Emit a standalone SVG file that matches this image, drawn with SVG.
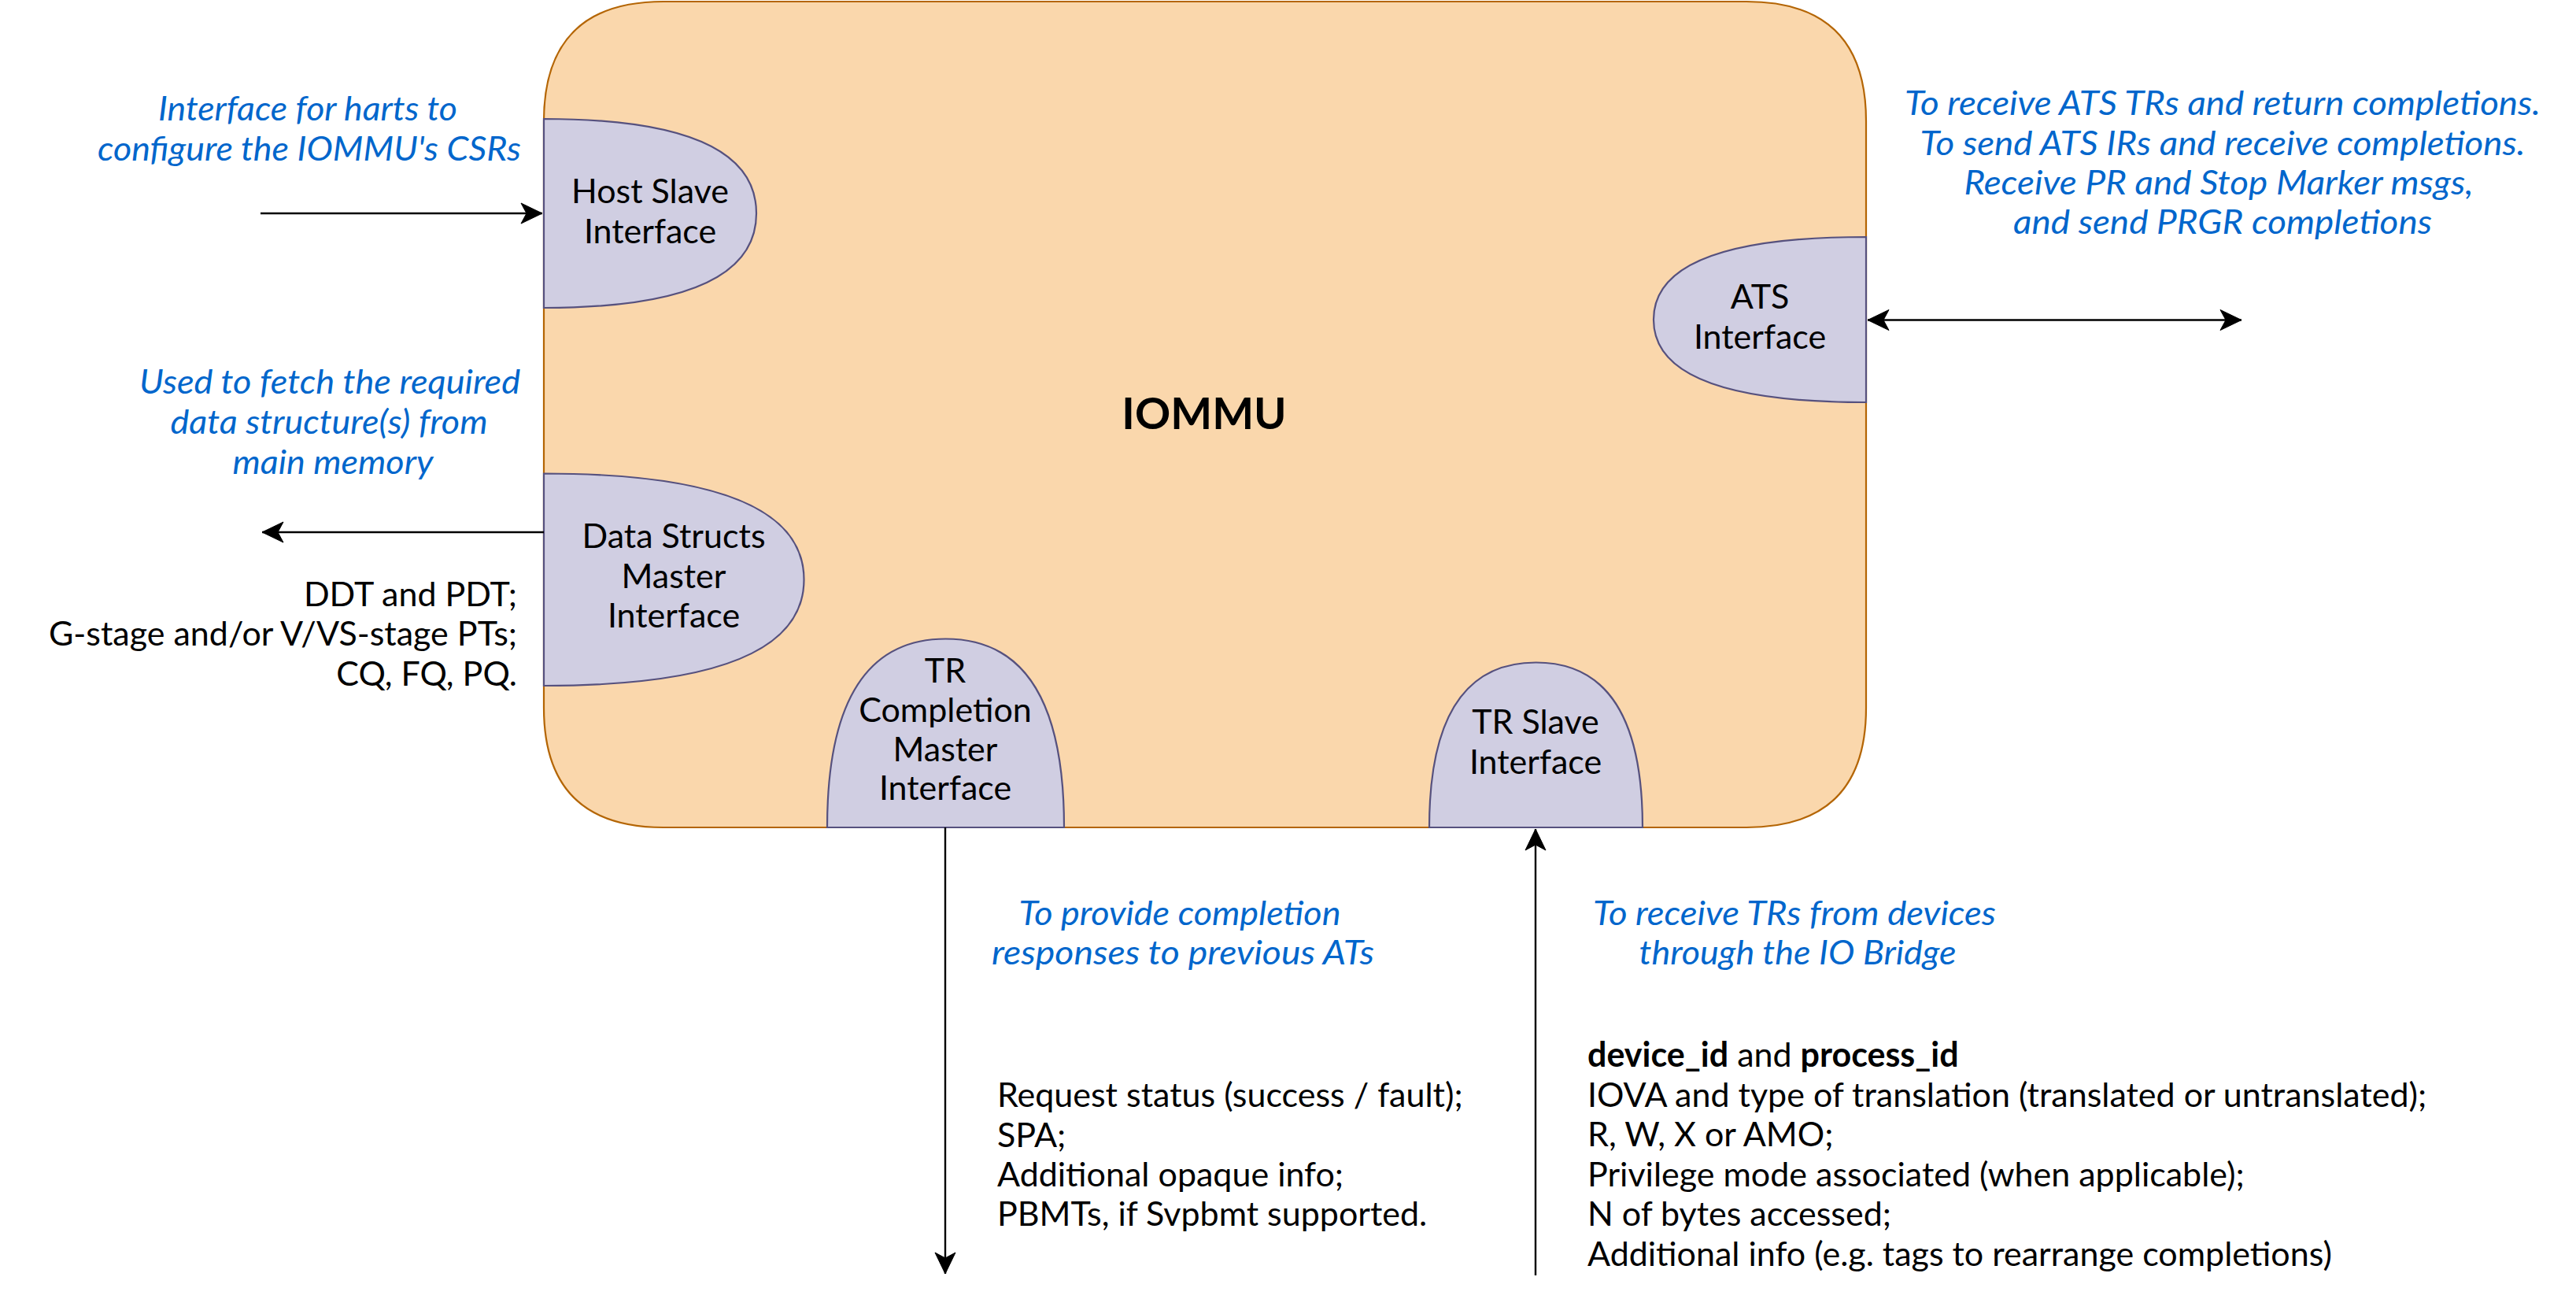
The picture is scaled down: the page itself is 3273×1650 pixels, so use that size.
<svg xmlns="http://www.w3.org/2000/svg" width="3273" height="1650" viewBox="0 0 3273 1650">
<defs>
<style>
.t{font-family:Lato,"Open Sans","Liberation Sans",sans-serif;font-size:43px;fill:#000}
.c{text-anchor:middle}
.e{text-anchor:end}
.b{font-family:Lato,"Open Sans","Liberation Sans",sans-serif;font-size:42px;font-style:italic;fill:#0066CC;text-anchor:middle}
.ifc{fill:#D0CEE2;stroke:#56517E;stroke-width:2.2}
.edge{fill:none;stroke:#000;stroke-width:2.4}
</style>
<marker id="ah" markerUnits="userSpaceOnUse" viewBox="-28 -14 30 28" refX="0" refY="0" markerWidth="30" markerHeight="28" orient="auto-start-reverse">
<path d="M0,0 L-27,-13 L-20,0 L-27,13 Z" fill="#000" stroke="#000" stroke-width="1"/>
</marker>
</defs>
<rect width="3273" height="1650" fill="#fff"/>

<g id="iommu">
<path d="M843,2 L2219,2 Q2371,2 2371,154 L2371,899 Q2371,1051 2219,1051 L843,1051 Q691,1051 691,899 L691,154 Q691,2 843,2 Z" fill="#FAD7AC" stroke="#B46504" stroke-width="2.2"/>
<text class="t c" x="1530" y="545" style="font-weight:bold;font-size:56px">IOMMU</text>
</g>

<g id="host-slave-interface">
<path class="ifc" d="M691,151 Q961,151 961,271 Q961,391 691,391 Z"/>
<text class="t c" x="826" y="258">Host Slave</text>
<text class="t c" x="826" y="309">Interface</text>
</g>

<g id="data-structs-master-interface">
<path class="ifc" d="M691,601.5 Q1021.5,601.5 1021.5,736.25 Q1021.5,871 691,871 Z"/>
<text class="t c" x="856" y="696">Data Structs</text>
<text class="t c" x="856" y="747">Master</text>
<text class="t c" x="856" y="797">Interface</text>
</g>

<g id="ats-interface">
<path class="ifc" d="M2371,301 Q2101,301 2101,406 Q2101,511 2371,511 Z"/>
<text class="t c" x="2236" y="392">ATS</text>
<text class="t c" x="2236" y="443">Interface</text>
</g>

<g id="tr-completion-master-interface">
<path class="ifc" d="M1051,1051 Q1051,811.5 1201.5,811.5 Q1352,811.5 1352,1051 Z"/>
<text class="t c" x="1201" y="867">TR</text>
<text class="t c" x="1201" y="917">Completion</text>
<text class="t c" x="1201" y="967">Master</text>
<text class="t c" x="1201" y="1016">Interface</text>
</g>

<g id="tr-slave-interface">
<path class="ifc" d="M1816,1051 Q1816,841.5 1951.5,841.5 Q2087,841.5 2087,1051 Z"/>
<text class="t c" x="1951" y="932">TR Slave</text>
<text class="t c" x="1951" y="983">Interface</text>
</g>

<g id="connectors">
<line class="edge" x1="331" y1="271" x2="689" y2="271" marker-end="url(#ah)"/>
<line class="edge" x1="691" y1="676" x2="333" y2="676" marker-end="url(#ah)"/>
<line class="edge" x1="2373" y1="406.5" x2="2848" y2="406.5" marker-start="url(#ah)" marker-end="url(#ah)"/>
<line class="edge" x1="1201" y1="1051" x2="1201" y2="1618" marker-end="url(#ah)"/>
<line class="edge" x1="1951" y1="1620" x2="1951" y2="1053" marker-end="url(#ah)"/>
</g>

<g id="labels">
<text class="b" x="391" y="153" textLength="380" lengthAdjust="spacingAndGlyphs">Interface for harts to</text>
<text class="b" x="393" y="204" textLength="538" lengthAdjust="spacingAndGlyphs">configure the IOMMU's CSRs</text>

<text class="b" x="419" y="500" textLength="484" lengthAdjust="spacingAndGlyphs">Used to fetch the required</text>
<text class="b" x="418" y="551" textLength="403" lengthAdjust="spacingAndGlyphs">data structure(s) from</text>
<text class="b" x="423" y="602" textLength="255" lengthAdjust="spacingAndGlyphs">main memory</text>

<text class="t e" x="657" y="770">DDT and PDT;</text>
<text class="t e" x="657" y="820">G-stage and/or V/VS-stage PTs;</text>
<text class="t e" x="657" y="871">CQ, FQ, PQ.</text>

<text class="b" x="2824" y="146" textLength="808" lengthAdjust="spacingAndGlyphs">To receive ATS TRs and return completions.</text>
<text class="b" x="2824" y="196.5" textLength="769" lengthAdjust="spacingAndGlyphs">To send ATS IRs and receive completions.</text>
<text class="b" x="2819" y="247" textLength="647" lengthAdjust="spacingAndGlyphs">Receive PR and Stop Marker msgs,</text>
<text class="b" x="2824" y="297" textLength="532" lengthAdjust="spacingAndGlyphs">and send PRGR completions</text>

<text class="b" x="1499" y="1175" textLength="409" lengthAdjust="spacingAndGlyphs">To provide completion</text>
<text class="b" x="1503" y="1225" textLength="486" lengthAdjust="spacingAndGlyphs">responses to previous ATs</text>

<text class="t" x="1267" y="1406">Request status (success / fault);</text>
<text class="t" x="1267" y="1456.5">SPA;</text>
<text class="t" x="1267" y="1507">Additional opaque info;</text>
<text class="t" x="1267" y="1557">PBMTs, if Svpbmt supported.</text>

<text class="b" x="2280" y="1175" textLength="512" lengthAdjust="spacingAndGlyphs">To receive TRs from devices</text>
<text class="b" x="2284" y="1225" textLength="403" lengthAdjust="spacingAndGlyphs">through the IO Bridge</text>

<text class="t" x="2017" y="1355"><tspan font-weight="bold">device_id</tspan> and <tspan font-weight="bold">process_id</tspan></text>
<text class="t" x="2017" y="1405.5">IOVA and type of translation (translated or untranslated);</text>
<text class="t" x="2017" y="1456">R, W, X or AMO;</text>
<text class="t" x="2017" y="1506.5">Privilege mode associated (when applicable);</text>
<text class="t" x="2017" y="1557">N of bytes accessed;</text>
<text class="t" x="2017" y="1607.5">Additional info (e.g. tags to rearrange completions)</text>
</g>
</svg>
